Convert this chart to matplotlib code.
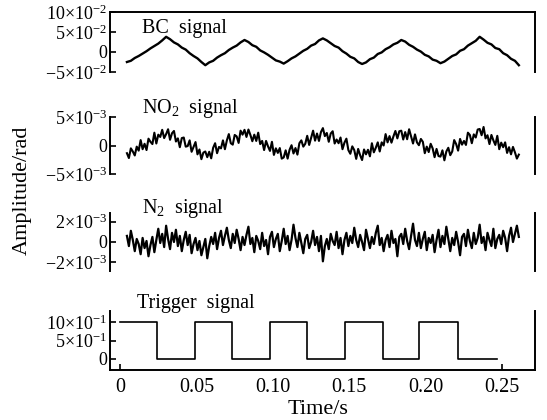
import numpy as np
import matplotlib
matplotlib.use("Agg")
import matplotlib.pyplot as plt

plt.rcParams['font.family'] = ['Liberation Serif', 'DejaVu Serif']
plt.rcParams['mathtext.fontset'] = 'custom'
plt.rcParams['mathtext.rm'] = 'Liberation Serif'
plt.rcParams['mathtext.it'] = 'Liberation Serif:italic'
plt.rcParams['mathtext.default'] = 'regular'

# ---------------- data ----------------
# BC signal (units of 1e-2 rad), t = 0 .. 0.25 s
bc_signal_e2 = [
    -2.5, -2.2, -1.5, -1.0, -0.4, 0.2, 0.9, 1.5, 2.1, 2.9, 3.8,
    3.2, 2.4, 1.9, 1.1, 0.6, -0.3, -1.0, -1.6, -2.5, -3.3,
    -2.6, -2.2, -1.4, -0.8, -0.3, 0.5, 1.1, 1.6, 2.4, 3.0,
    2.5, 1.7, 1.3, 0.4, -0.1, -0.7, -1.4, -2.1, -2.4, -2.9,
    -2.3, -1.6, -1.1, -0.4, 0.3, 0.8, 1.6, 2.0, 2.9, 3.4,
    2.9, 2.2, 1.5, 1.1, 0.2, -0.4, -1.2, -1.6, -2.5, -3.0,
    -2.6, -1.8, -1.4, -0.5, -0.1, 0.7, 1.2, 1.9, 2.3, 3.0,
    2.6, 1.8, 1.3, 0.6, 0.1, -0.7, -1.1, -1.9, -2.2, -2.8,
    -2.4, -1.7, -1.0, -0.6, 0.3, 0.7, 1.6, 2.2, 2.8, 3.8,
    3.1, 2.3, 1.9, 1.0, 0.7, -0.3, -0.8, -1.7, -2.2, -3.3,
]

# NO2 signal (units of 1e-3 rad)
no2_signal_e3 = [
    -1.35, -2.2, -0.5, -1.05, -1.75, -0.2, -0.9, 0.95, -0.65, 0.3, -0.8, 1.2, 0.65, 0.25, 2.25, 0.35, 1.9, 1.5, 2.75, 1.3,
    2.0, 2.85, 1.0, 2.15, 2.55, 0.7, 1.25, -0.3, 1.3, 1.4, -0.2, -0.1, 0.9, -1.1, -0.25, 0.6, -1.55, -0.7, -2.4, -1.25,
    -1.05, -2.05, -1.1, -2.25, -0.4, 0.4, -1.35, -0.25, -0.5, 0.9, -0.65, 0.9, 2.0, 0.4, 0.15, 1.85, 1.6, 0.45, 2.6, 1.9,
    2.75, 1.5, 2.8, 1.85, 0.75, 1.9, 0.8, 2.25, 0.25, 0.8, -0.8, 0.8, -0.15, -0.95, 0.65, -1.65, -0.5, -1.3, -0.45, -2.3,
    -2.1, -0.85, -2.3, -0.75, 0.05, -1.4, -0.45, -1.6, 0.4, 0.9, -0.2, 0.3, 1.7, 0.1, 1.35, 2.6, 0.85, 2.1, 0.8, 2.35,
    3.05, 1.65, 2.2, 0.65, 2.1, 2.5, 0.35, 1.05, 0.4, 1.4, -0.65, 0.5, 1.2, -0.8, -1.45, -0.15, -0.8, -2.35, -0.6, -1.7,
    -2.55, -0.7, -1.55, -0.75, -1.9, 0.4, -1.2, -0.4, 0.55, -1.05, 0.55, 0.0, 2.0, 0.55, 1.65, 0.5, 1.6, 2.55, 1.25, 2.5,
    2.6, 1.05, 2.35, 1.1, 2.85, 1.6, 0.35, 1.95, 0.55, 0.05, 1.15, 0.65, -1.35, -0.2, -1.15, 0.3, -0.5, -2.05, -0.6, -1.85,
    -1.95, -0.85, -2.6, -1.05, -0.4, -1.7, -1.05, 0.95, 0.25, -0.9, 1.15, 0.15, 0.8, 0.1, 2.25, 1.85, 0.4, 1.95, 1.4, 2.8,
    2.9, 1.8, 3.25, 1.25, 1.8, 0.25, 1.85, 0.9, 0.1, 1.7, -0.65, 0.5, -0.3, 0.55, -1.3, -0.3, -1.55, -0.25, -1.2, -2.3,
    -1.6,
]

# N2 signal (units of 1e-3 rad)
n2_signal_e3 = [
    0.6, -0.4, 1.1, 0.2, -0.9, 0.3, -0.2, -1.2, 0.4, -0.6, 0.1, -1.4, -0.3, 0.5, -1.0, 0.2, 1.3, -0.1, 0.8, -0.5,
    1.6, 0.3, -0.7, 0.9, 0.0, 1.2, -0.4, 0.6, -0.9, 0.2, 1.0, -0.3, 0.7, -1.1, -0.2, 0.4, -0.8, 0.1, -1.3, -0.5,
    0.3, -1.6, -0.4, 0.5, -0.2, 0.9, -0.7, 0.4, 1.1, -0.3, 0.6, 1.4, 0.2, -0.6, 0.8, -0.1, 1.2, 0.3, -0.8, 0.5,
    -0.3, 0.7, 1.5, -0.2, 0.4, -1.0, 0.6, 0.1, -0.7, 0.9, -0.4, 0.2, -1.2, 0.5, 1.0, -0.5, 0.3, 0.8, -0.9, 0.1,
    1.3, -0.2, 0.6, -0.8, 0.2, 1.7, 0.4, -0.5, 0.9, -0.1, -1.1, 0.3, 0.7, -0.6, 0.0, 1.1, -0.3, 0.5, -0.9, 0.6,
    -1.9, -0.4, 0.3, -0.7, 0.8, 0.1, -0.3, 1.0, -0.6, 0.4, -1.2, 0.2, 0.9, -0.4, 0.6, -0.1, 1.4, 0.2, -0.5, 0.7,
    0.0, -0.8, 1.2, 0.3, -0.6, 0.5, -0.2, 0.9, 1.6, -0.3, 0.4, -0.9, 0.2, 0.7, -0.5, 1.1, -0.1, 0.3, -1.4, 0.5,
    0.8, -0.2, 1.3, 0.1, -0.7, 0.6, 1.8, 0.2, -0.4, 0.9, -0.6, 0.3, 1.0, -0.8, 0.4, -0.1, 0.7, -1.0, 0.2, 1.2,
    -0.5, 0.6, -0.2, 1.5, 0.3, -0.9, 0.4, -0.3, 1.0, 0.0, -1.3, 0.5, 0.8, -0.4, 1.2, 0.1, -0.6, 0.9, -0.2, 0.4,
    1.7, -0.1, 0.5, -0.8, 0.9, 0.2, -0.4, 1.3, -0.6, 0.3, 0.7, -0.2, 1.1, 0.4, -0.9, 0.6, 1.4, 0.0, 0.8, 1.6,
    0.5,
]

# Trigger signal: edge times (s) and level held after each edge
trigger_times = [0.0, 0.024, 0.049, 0.0735, 0.098, 0.1225, 0.147, 0.172, 0.196, 0.2215, 0.2465]
trigger_levels = [1.0, 0.0, 1.0, 0.0, 1.0, 0.0, 1.0, 0.0, 1.0, 0.0, 0.0]

signal_duration = 0.25

panel_titles = ['BC  signal', r'NO$_2$  signal', r'N$_2$  signal', 'Trigger  signal']

bc_yticks = [-0.05, 0.0, 0.05, 0.10]
bc_yticklabels = [r'$-5{\times}10^{-2}$', '0', r'$5{\times}10^{-2}$', r'$10{\times}10^{-2}$']
no2_yticks = [-0.005, 0.0, 0.005]
no2_yticklabels = [r'$-5{\times}10^{-3}$', '0', r'$5{\times}10^{-3}$']
n2_yticks = [-0.002, 0.0, 0.002]
n2_yticklabels = [r'$-2{\times}10^{-3}$', '0', r'$2{\times}10^{-3}$']
trig_yticks = [0.0, 0.5, 1.0]
trig_yticklabels = ['0', r'$5{\times}10^{-1}$', r'$10{\times}10^{-1}$']

xticks = [0.0, 0.05, 0.10, 0.15, 0.20, 0.25]
xticklabels = ['0', '0.05', '0.10', '0.15', '0.20', '0.25']

# ---------------- figure ----------------
W, H = 547, 420
fig = plt.figure(figsize=(W / 100, H / 100), dpi=100)


def box(x0, y0, x1, y1):
    return [x0 / W, 1 - y1 / H, (x1 - x0) / W, (y1 - y0) / H]


ax1 = fig.add_axes(box(110, 12, 535, 72))
ax2 = fig.add_axes(box(110, 117, 535, 174))
ax3 = fig.add_axes(box(110, 213, 535, 271))
ax4 = fig.add_axes(box(110, 311, 535, 370))

t_bc = np.linspace(0, signal_duration, len(bc_signal_e2))
t_no2 = np.linspace(0, signal_duration, len(no2_signal_e3))
t_n2 = np.linspace(0, signal_duration, len(n2_signal_e3))

ax1.plot(t_bc, np.array(bc_signal_e2) * 1e-2, color='black', lw=1.7)
ax2.plot(t_no2, np.array(no2_signal_e3) * 1e-3, color='black', lw=1.5)
ax3.plot(t_n2, np.array(n2_signal_e3) * 1e-3, color='black', lw=1.6)
ax4.step(trigger_times, trigger_levels, where='post', color='black', lw=1.2)

ax1.set_ylim(-0.05, 0.10)
ax2.set_ylim(-0.005, 0.005)
ax3.set_ylim(-0.00285, 0.00285)
ax4.set_ylim(-0.3, 1.3)

for ax in (ax1, ax2, ax3):
    ax.set_xlim(-0.0108, 0.2603)
ax4.set_xlim(-0.0065, 0.2716)

ticksets = [(bc_yticks, bc_yticklabels), (no2_yticks, no2_yticklabels),
            (n2_yticks, n2_yticklabels), (trig_yticks, trig_yticklabels)]

for ax, (tk, tl) in zip((ax1, ax2, ax3, ax4), ticksets):
    ax.set_yticks(tk)
    ax.set_yticklabels(tl)
    ax.tick_params(axis='y', direction='in', length=4, width=1.2, pad=2, labelsize=13)
    ax.spines['top'].set_visible(False)
    ax.spines['bottom'].set_visible(False)
    for s in ('left', 'right', 'top', 'bottom'):
        ax.spines[s].set_linewidth(1.4)
    ax.set_xticks([])

ax1.spines['top'].set_visible(True)
ax4.spines['bottom'].set_visible(True)
ax4.set_xticks(xticks)
ax4.set_xticklabels(xticklabels)
ax4.tick_params(axis='x', direction='in', length=4, width=1.2, pad=6, labelsize=14.5)
for i, tick in enumerate(ax4.xaxis.get_major_ticks()):
    if i not in (0, len(xticks) - 1):
        tick.tick1line.set_visible(False)

ax1.text(0.075, 0.65, panel_titles[0], transform=ax1.transAxes, fontsize=14.5, va='baseline')
ax2.text(0.075, 1.07, panel_titles[1], transform=ax2.transAxes, fontsize=14.5, va='baseline')
ax3.text(0.075, 1.0, panel_titles[2], transform=ax3.transAxes, fontsize=14.5, va='baseline')
ax4.text(0.063, 1.05, panel_titles[3], transform=ax4.transAxes, fontsize=14.5, va='baseline')

fig.text(22 / W, 1 - 190 / H, 'Amplitude/rad', rotation=90, ha='center', va='center', fontsize=16)
fig.text(318 / W, 1 - 409 / H, 'Time/s', ha='center', va='center', fontsize=16)

fig.savefig('out.png', dpi=100)
